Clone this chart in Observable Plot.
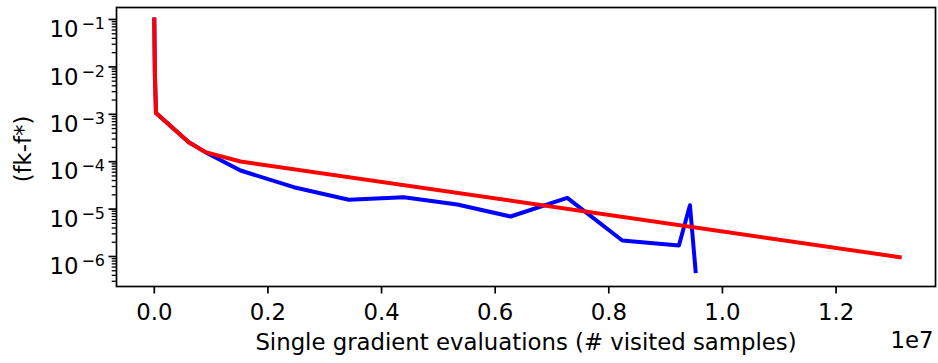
<!DOCTYPE html>
<html><head><meta charset="utf-8">
<script src="https://cdn.jsdelivr.net/npm/d3@7"></script>
<script src="https://cdn.jsdelivr.net/npm/@observablehq/plot@0.6"></script>
<style>html,body{margin:0;padding:0;background:#fff} svg{display:block}</style>
</head><body><div id="chart"></div>
<script>
// Blue series (# visited samples, fk-f*)
const blueX = [0, 1e4, 3e4, 6.07e5, 9.0e5, 1.518e6, 2.456e6, 3.424e6, 4.393e6, 5.333e6, 6.271e6, 7.269e6, 8.238e6, 9.234e6, 9.428e6, 9.528e6];
const blueY = [0.1, 0.0077, 1.06e-3, 2.58e-4, 1.59e-4, 6.52e-5, 2.90e-5, 1.57e-5, 1.78e-5, 1.25e-5, 6.98e-6, 1.73e-5, 2.18e-6, 1.71e-6, 1.21e-5, 4.9e-7];
// Red series
const redX = [0, 1e4, 3e4, 6.07e5, 9.0e5, 1.518e6, 1.312e7];
const redY = [0.1, 0.0077, 1.06e-3, 2.58e-4, 1.59e-4, 1.01e-4, 9.7e-7];

// Tick labels / positions
const xTicks = [0, 2e6, 4e6, 6e6, 8e6, 1e7, 1.2e7];
const xTickLabels = ["0.0", "0.2", "0.4", "0.6", "0.8", "1.0", "1.2"];
const yTicks = [1e-6, 1e-5, 1e-4, 1e-3, 1e-2, 1e-1];
const yTickExponents = ["−6", "−5", "−4", "−3", "−2", "−1"];
const yMinorMultipliers = [2, 3, 4, 5, 6, 7, 8, 9];
const yDecades = [1e-7, 1e-6, 1e-5, 1e-4, 1e-3, 1e-2, 1e-1];
const xLabel = "Single gradient evaluations (# visited samples)";
const yLabel = "(fk-f*)";
const xOffsetLabel = "1e7";

const xDomain = [-0.0665e7, 1.375e7];
const yDomain = [2.33e-7, 0.179];

const yMinor = [];
for (const d of yDecades) for (const m of yMinorMultipliers) {
  const v = d * m;
  if (v >= yDomain[0] && v <= yDomain[1]) yMinor.push(v);
}

const blue = blueX.map((x, i) => ({x, y: blueY[i]}));
const red = redX.map((x, i) => ({x, y: redY[i]}));

const FS = 22.8;
const chart = Plot.plot({
  width: 938, height: 363,
  marginTop: 7, marginRight: 3, marginBottom: 77, marginLeft: 116,
  style: {fontFamily: "DejaVu Sans", fontSize: FS + "px", color: "black", background: "white", overflow: "visible"},
  x: {domain: xDomain},
  y: {type: "log", domain: yDomain},
  marks: [
    Plot.axisX({ticks: xTicks, tickSize: 7.5, tickPadding: 9.3, strokeWidth: 1.7,
      tickFormat: d => xTickLabels[xTicks.indexOf(d)], label: null}),
    Plot.axisY({ticks: yMinor, tickSize: 4.3, strokeWidth: 1.3, tickFormat: () => "", label: null}),
    Plot.axisY({ticks: yTicks, tickSize: 7.5, tickPadding: 4, strokeWidth: 1.7,
      tickFormat: d => "10" + yTickExponents[yTicks.indexOf(d)], label: null}),
    Plot.line(blue, {x: "x", y: "y", stroke: "#0000ff", strokeWidth: 4, strokeLinejoin: "round", strokeLinecap: "square"}),
    Plot.line(red, {x: "x", y: "y", stroke: "#ff0000", strokeWidth: 4, strokeLinejoin: "round", strokeLinecap: "square"}),
    Plot.frame({stroke: "black", strokeWidth: 1.7}),
    Plot.text([xLabel], {text: d => d, frameAnchor: "bottom", textAnchor: "middle", lineAnchor: "middle", dy: 56.7, fontSize: FS, fill: "black"}),
    Plot.text([xOffsetLabel], {text: d => d, frameAnchor: "bottom-right", textAnchor: "end", lineAnchor: "middle", dx: -2, dy: 54.7, fontSize: FS, fill: "black"}),
    Plot.text([yLabel], {text: d => d, frameAnchor: "left", textAnchor: "middle", lineAnchor: "middle", rotate: -90, dx: -92.6, dy: 2, fontSize: FS, fill: "black"})
  ]
});
document.getElementById("chart").appendChild(chart);

// Render y tick labels as 10 with superscript exponent
d3.select(chart).selectAll('g[aria-label="y-axis tick label"] text').each(function() {
  const t = d3.select(this);
  const txt = t.text();
  if (!txt.startsWith("10")) { t.remove(); return; }
  const exp = txt.slice(2);
  t.text(null).attr("dy", "10.5");
  t.append("tspan").text("10");
  t.append("tspan").attr("font-size", (FS * 0.7) + "px").attr("dx", "3").attr("dy", "-8").text(exp);
});
</script>
</body></html>
